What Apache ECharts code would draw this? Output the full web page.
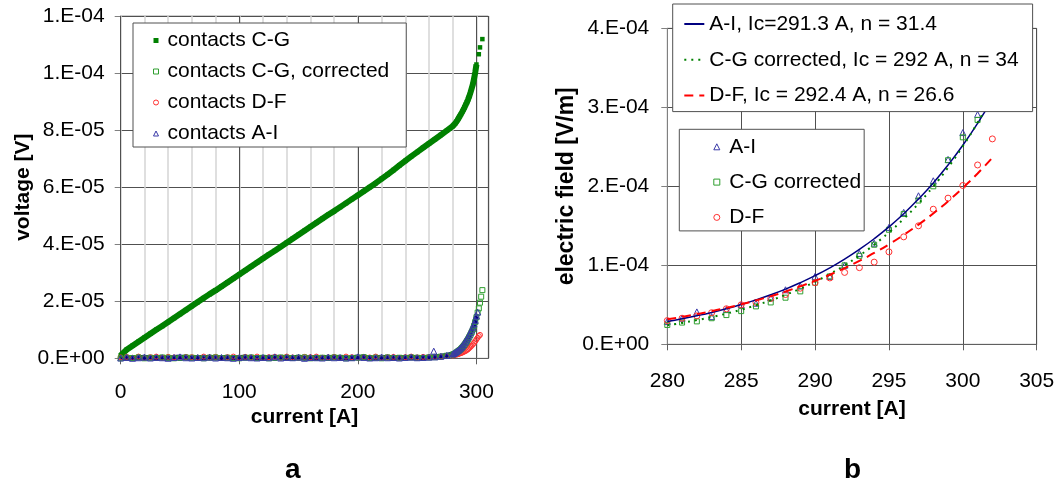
<!DOCTYPE html>
<html><head><meta charset="utf-8">
<script src="https://cdn.jsdelivr.net/npm/echarts@6/dist/echarts.min.js"></script>
<style>html,body{margin:0;padding:0;background:#fff}#c{width:1058px;height:486px}</style>
</head><body><div id="c"></div><script>
// ---------- Left chart (a): voltage vs current, values in microvolts ----------
const currentLeft = [0,5,10,15,20,25,30,35,40,45,50,55,60,65,70,75,80,85,90,95,
  100,105,110,115,120,125,130,135,140,145,150,155,160,165,170,175,180,185,190,195,
  200,205,210,215,220,225,230,235,240,245,250,255,260,265,270,275,280,
  281,282,283,284,285,286,287,288,289,290,291,292,293,294,295,296,297,298,299,300,
  301,302,303,304,305];
const cgMicroV = [1.0,3.0,4.4,5.8,7.2,8.6,10.0,11.3,12.7,14.1,
  15.5,16.9,18.3,19.7,21.1,22.5,23.8,25.2,26.6,28.0,
  29.4,30.8,32.2,33.6,35.0,36.4,37.7,39.1,40.5,41.9,
  43.3,44.7,46.1,47.5,48.9,50.3,51.6,53.0,54.4,55.8,
  57.2,58.6,60.0,61.4,62.9,64.4,66.0,67.6,69.2,70.8,
  72.3,73.8,75.3,76.8,78.3,79.8,81.4,
  81.8,82.3,82.9,83.5,84.2,84.9,85.6,86.4,87.2,88.0,
  88.9,89.8,90.8,91.9,93.2,94.6,96.1,98.0,100.3,103.0,
  null,106.6,109.0,null,111.9];
const cgCorrMicroV = [0.0,0.2,0.1,0.3,0.0,0.2,0.1,0.3,0.2,0.0,
  0.1,0.3,0.2,0.1,0.0,0.2,0.3,0.1,0.2,0.1,
  0.0,0.2,0.3,0.1,0.2,0.0,0.1,0.3,0.2,0.1,
  0.2,0.3,0.0,0.1,0.2,0.1,0.3,0.2,0.0,0.1,
  0.2,0.4,0.1,0.2,0.0,0.3,0.1,0.2,0.1,0.3,
  0.2,0.1,0.3,0.4,0.6,0.9,1.3,
  1.5,1.7,2.0,2.3,2.6,2.9,3.3,3.7,4.2,4.7,
  5.3,5.9,6.6,7.4,8.2,9.1,10.1,11.3,12.7,14.4,
  16.0,17.5,19.5,21.6,23.9];
const dfMicroV = [0.3,0.5,0.2,0.6,0.1,0.4,0.6,0.2,0.5,0.3,
  0.1,0.5,0.4,0.2,0.6,0.3,0.5,0.1,0.4,0.6,
  0.2,0.5,0.3,0.6,0.1,0.4,0.5,0.2,0.6,0.3,
  0.1,0.5,0.4,0.6,0.2,0.3,0.5,0.1,0.6,0.4,
  0.2,0.5,0.3,0.6,0.2,0.4,0.5,0.1,0.4,0.6,
  0.3,0.5,0.4,0.5,0.6,0.8,1.0,
  1.1,1.2,1.3,1.4,1.5,1.7,1.8,2.0,2.2,2.4,
  2.6,2.9,3.2,3.6,4.0,4.4,4.9,5.4,6.0,6.6,
  7.2,7.8,8.2,null,null];
const aiMicroV = [0.1,0.3,0.0,0.2,0.4,0.1,0.3,0.2,0.0,0.3,
  0.5,0.2,0.1,0.3,0.2,0.4,0.1,0.3,0.2,0.0,
  0.3,0.4,0.2,0.1,0.3,0.2,0.5,0.1,0.3,0.2,
  0.4,0.0,0.3,0.2,0.1,0.4,0.2,0.3,0.1,0.2,
  0.5,0.3,0.1,0.2,0.4,0.2,0.3,0.1,0.3,0.4,
  0.2,0.3,0.4,0.5,0.7,1.0,1.5,
  1.7,2.0,2.3,2.6,2.9,3.3,3.7,4.2,4.8,5.4,
  6.0,6.7,7.4,8.2,9.0,9.9,10.9,12.0,13.3,14.8,
  16.2,null,null,null,null];
const aiOutlierCurrent = [264];
const aiOutlierMicroV = [2.5];
const MICRO = 1e-6;

// ---------- Right chart (b): electric field vs current, values in 1e-4 V/m ----------
const currentRight = [280,281,282,283,284,285,286,287,288,289,290,291,292,293,294,295,296,297,298,299,300,301,302];
const aiField = [0.29,0.33,0.41,0.35,0.44,0.50,0.52,0.59,0.69,0.74,0.86,0.86,1.00,1.15,1.28,1.48,1.67,1.88,2.07,2.34,2.68,2.91,null];
const cgField = [0.245,0.275,0.29,0.33,0.37,0.42,0.48,0.53,0.59,0.67,0.78,0.86,1.00,1.12,1.26,1.45,1.65,1.82,2.00,2.33,2.62,2.84,null];
const dfField = [0.30,0.33,0.36,0.40,0.45,0.50,0.53,0.58,0.63,0.71,0.78,0.84,0.91,0.97,1.04,1.17,1.36,1.50,1.71,1.85,2.01,2.27,2.60];
const aiFit = [0.289,0.323,0.361,0.403,0.451,0.503,0.562,0.627,0.699,0.780,0.869,0.968,1.078,1.201,1.336,1.486,1.653,1.838,2.042,2.269,2.519,2.797,3.104];
const cgFit = [0.240,0.271,0.306,0.345,0.389,0.438,0.494,0.556,0.626,0.704,0.792,0.890,1.000,1.123,1.261,1.416,1.588,1.781,1.997,2.238,2.507,2.807,3.142];
const dfFit = [0.316,0.347,0.382,0.419,0.461,0.506,0.555,0.609,0.668,0.733,0.803,0.880,0.964,1.056,1.156,1.265,1.385,1.515,1.656,1.811,1.979,2.162,2.362];
const FIELD = 1e-4;

const leftTicks = {min:0, max:1.2e-4, interval:2e-5};
const rightTicks = {min:0, max:4e-4, interval:1e-4};

function pairs(xs, ys, unit, xMin, xMax){
  const out = [];
  for (let i = 0; i < xs.length; i++) {
    if (ys[i] == null) continue;
    if (xMin != null && xs[i] < xMin) continue;
    if (xMax != null && xs[i] > xMax) continue;
    out.push([xs[i], ys[i] * unit]);
  }
  return out;
}
function sci(v){
  if (Math.abs(v) < 1e-15) return '0.E+00';
  let e = Math.floor(Math.log10(Math.abs(v)) + 1e-9);
  let m = Math.round(v / Math.pow(10, e));
  if (m >= 10) { m = m / 10; e++; }
  const a = Math.abs(e);
  return m + '.E' + (e < 0 ? '-' : '+') + (a < 10 ? '0' : '') + a;
}

const FONT = 'Liberation Sans';
const GREEN = '#008000', GREEN2 = '#2f9f2f', RED = '#ff3030', REDL = '#ff0000', BLUE = '#3a3aa8', NAVY = '#000080';
const tick = {fontFamily: FONT, fontSize: 21, color: '#000'};
const nameSt = {fontFamily: FONT, fontSize: 21, fontWeight: 'bold', color: '#000'};
const legText = {fontFamily: FONT, fontSize: 21, color: '#000', lineHeight: 21};
const ICON_SQUARE = 'path://M0,0L10,0L10,10L0,10Z';
const ICON_TRI = 'path://M5,0L10,10L0,10Z';
const ICON_CIRCLE = 'path://M5,0A5,5,0,1,1,5,10A5,5,0,1,1,5,0Z';

const chart = echarts.init(document.getElementById('c'), null, {renderer: 'canvas'});
chart.setOption({
  animation: false,
  backgroundColor: '#fff',
  title: [
    {text: 'a', left: 285, top: 456, padding: 0, textStyle: {fontFamily: FONT, fontSize: 28, fontWeight: 'bold', color: '#000'}},
    {text: 'b', left: 844, top: 456, padding: 0, textStyle: {fontFamily: FONT, fontSize: 28, fontWeight: 'bold', color: '#000'}}
  ],
  grid: [
    {left: 120.7, top: 16, width: 367.6, height: 342.3, show: true, borderColor: '#a0a0a0', borderWidth: 1, backgroundColor: 'transparent', containLabel: false, outerBoundsMode: 'none'},
    {left: 667.3, top: 28.3, width: 369.4, height: 316, show: true, borderColor: '#909090', borderWidth: 1, backgroundColor: 'transparent', containLabel: false, outerBoundsMode: 'none'}
  ],
  xAxis: [
    {type: 'value', gridIndex: 0, position: 'top', min: 0, max: 310, interval: 20,
      axisLine: {show: false}, axisTick: {show: false}, axisLabel: {show: false},
      splitLine: {show: true, lineStyle: {color: '#d4d4d4', width: 1.5}}},
    {type: 'value', gridIndex: 0, position: 'bottom', min: 0, max: 310, interval: 100, z: 1,
      axisLine: {show: true, onZero: false, lineStyle: {color: '#606060', width: 1}},
      axisTick: {show: true, inside: false, length: 6, lineStyle: {color: '#606060'}},
      axisLabel: {show: true, margin: 23, showMaxLabel: false, showMinLabel: true, ...tick},
      splitLine: {show: true, lineStyle: {color: '#505050', width: 1}},
      name: 'current [A]', nameLocation: 'middle', nameGap: 47, nameTextStyle: nameSt},
    {type: 'value', gridIndex: 1, position: 'bottom', min: 280, max: 305, interval: 5,
      axisLine: {show: true, onZero: false, lineStyle: {color: '#606060', width: 1}},
      axisTick: {show: true, inside: false, length: 6, lineStyle: {color: '#606060'}},
      axisLabel: {show: true, margin: 26, ...tick},
      splitLine: {show: true, lineStyle: {color: '#505050', width: 1}},
      name: 'current [A]', nameLocation: 'middle', nameGap: 54, nameTextStyle: nameSt}
  ],
  yAxis: [
    {type: 'value', gridIndex: 0, ...leftTicks,
      axisLine: {show: true, onZero: false, lineStyle: {color: '#808080', width: 1}},
      axisTick: {show: true, inside: false, length: 6, lineStyle: {color: '#808080'}},
      axisLabel: {show: true, margin: 16, formatter: sci, ...tick},
      splitLine: {show: true, lineStyle: {color: '#505050', width: 1}},
      name: 'voltage [V]', nameLocation: 'middle', nameGap: 87, nameRotate: 90, nameTextStyle: nameSt},
    {type: 'value', gridIndex: 1, ...rightTicks,
      axisLine: {show: true, onZero: false, lineStyle: {color: '#808080', width: 1}},
      axisTick: {show: true, inside: false, length: 6, lineStyle: {color: '#808080'}},
      axisLabel: {show: true, margin: 18, formatter: sci, ...tick},
      splitLine: {show: true, lineStyle: {color: '#505050', width: 1}},
      name: 'electric field [V/m]', nameLocation: 'middle', nameGap: 86, nameRotate: 90,
      nameTextStyle: {...nameSt, fontSize: 23}}
  ],
  legend: [
    {orient: 'vertical', left: 133, top: 23, padding: [7, 17, 3, 20], itemGap: 10, itemWidth: 13, itemHeight: 5,
      backgroundColor: '#fff', borderColor: '#505050', borderWidth: 1, selectedMode: false, symbolKeepAspect: true,
      textStyle: legText, itemStyle: {borderWidth: 1},
      data: [{name: 'contacts C-G', icon: ICON_SQUARE}, {name: 'contacts C-G, corrected', icon: ICON_SQUARE},
             {name: 'contacts D-F', icon: ICON_CIRCLE}, {name: 'contacts A-I', icon: ICON_TRI}]},
    {orient: 'vertical', left: 672.7, top: 4, padding: [9.5, 14, 5.5, 10.6], itemGap: 14.8, itemWidth: 20, itemHeight: 12,
      backgroundColor: '#fff', borderColor: '#505050', borderWidth: 1, selectedMode: false,
      textStyle: legText, itemStyle: {opacity: 0},
      data: ['A-I, Ic=291.3 A, n = 31.4', 'C-G corrected, Ic = 292 A, n = 34', 'D-F, Ic = 292.4 A, n = 26.6']},
    {orient: 'vertical', left: 679.3, top: 129.3, padding: [7, 3, 3, 34], itemGap: 14.3, itemWidth: 15, itemHeight: 6,
      backgroundColor: '#fff', borderColor: '#505050', borderWidth: 1, selectedMode: false, symbolKeepAspect: true,
      textStyle: legText, itemStyle: {borderWidth: 1},
      data: [{name: 'A-I', icon: ICON_TRI}, {name: 'C-G corrected', icon: ICON_SQUARE}, {name: 'D-F', icon: ICON_CIRCLE}]}
  ],
  series: [
    // ----- left chart -----
    {type: 'line', xAxisIndex: 1, yAxisIndex: 0, silent: true, clip: false, z: 2,
      data: pairs(currentLeft, cgMicroV, MICRO, null, 300), symbol: 'none', showSymbol: false,
      lineStyle: {color: GREEN, width: 6}},
    {name: 'contacts C-G', type: 'scatter', xAxisIndex: 1, yAxisIndex: 0, z: 3,
      data: pairs(currentLeft, cgMicroV, MICRO), symbol: 'rect', symbolSize: 4.5,
      itemStyle: {color: GREEN, opacity: 1}},
    {name: 'contacts D-F', type: 'scatter', xAxisIndex: 1, yAxisIndex: 0, z: 3, clip: false,
      data: pairs(currentLeft, dfMicroV, MICRO), symbol: 'circle', symbolSize: 5,
      itemStyle: {color: 'rgba(255,255,255,0)', borderColor: RED, borderWidth: 1, opacity: 1}},
    {name: 'contacts C-G, corrected', type: 'scatter', xAxisIndex: 1, yAxisIndex: 0, z: 3, clip: false,
      data: pairs(currentLeft, cgCorrMicroV, MICRO), symbol: 'rect', symbolSize: 5,
      itemStyle: {color: 'rgba(255,255,255,0)', borderColor: GREEN2, borderWidth: 1, opacity: 1}},
    {type: 'line', xAxisIndex: 1, yAxisIndex: 0, silent: true, clip: false, z: 3,
      data: pairs(currentLeft, aiMicroV, MICRO, null, 300), symbol: 'none', showSymbol: false,
      lineStyle: {color: NAVY, width: 5}},
    {name: 'contacts A-I', type: 'scatter', xAxisIndex: 1, yAxisIndex: 0, z: 3, clip: false,
      data: pairs(currentLeft, aiMicroV, MICRO).concat(pairs(aiOutlierCurrent, aiOutlierMicroV, MICRO)),
      symbol: 'triangle', symbolSize: 6,
      itemStyle: {color: 'rgba(255,255,255,0)', borderColor: BLUE, borderWidth: 1, opacity: 1}},
    // ----- right chart -----
    {name: 'A-I', type: 'scatter', xAxisIndex: 2, yAxisIndex: 1, z: 2,
      data: pairs(currentRight, aiField, FIELD), symbol: 'triangle', symbolSize: 6,
      itemStyle: {color: 'rgba(255,255,255,0)', borderColor: BLUE, borderWidth: 1, opacity: 1}},
    {name: 'C-G corrected', type: 'scatter', xAxisIndex: 2, yAxisIndex: 1, z: 2,
      data: pairs(currentRight, cgField, FIELD), symbol: 'rect', symbolSize: 5,
      itemStyle: {color: 'rgba(255,255,255,0)', borderColor: GREEN2, borderWidth: 1, opacity: 1}},
    {name: 'D-F', type: 'scatter', xAxisIndex: 2, yAxisIndex: 1, z: 2,
      data: pairs(currentRight, dfField, FIELD), symbol: 'circle', symbolSize: 6,
      itemStyle: {color: 'rgba(255,255,255,0)', borderColor: RED, borderWidth: 1, opacity: 1}},
    {name: 'A-I, Ic=291.3 A, n = 31.4', type: 'line', xAxisIndex: 2, yAxisIndex: 1, z: 3, smooth: true,
      data: pairs(currentRight, aiFit, FIELD), symbol: 'none', showSymbol: false,
      lineStyle: {color: NAVY, width: 1.5, type: 'solid'}, itemStyle: {color: NAVY}},
    {name: 'C-G corrected, Ic = 292 A, n = 34', type: 'line', xAxisIndex: 2, yAxisIndex: 1, z: 3, smooth: true,
      data: pairs(currentRight, cgFit, FIELD), symbol: 'none', showSymbol: false,
      lineStyle: {color: GREEN, width: 2, type: [2, 5]}, itemStyle: {color: GREEN}},
    {name: 'D-F, Ic = 292.4 A, n = 26.6', type: 'line', xAxisIndex: 2, yAxisIndex: 1, z: 3, smooth: true,
      data: pairs(currentRight, dfFit, FIELD), symbol: 'none', showSymbol: false,
      lineStyle: {color: REDL, width: 2, type: [9, 6]}, itemStyle: {color: REDL}}
  ]
});
</script></body></html>
